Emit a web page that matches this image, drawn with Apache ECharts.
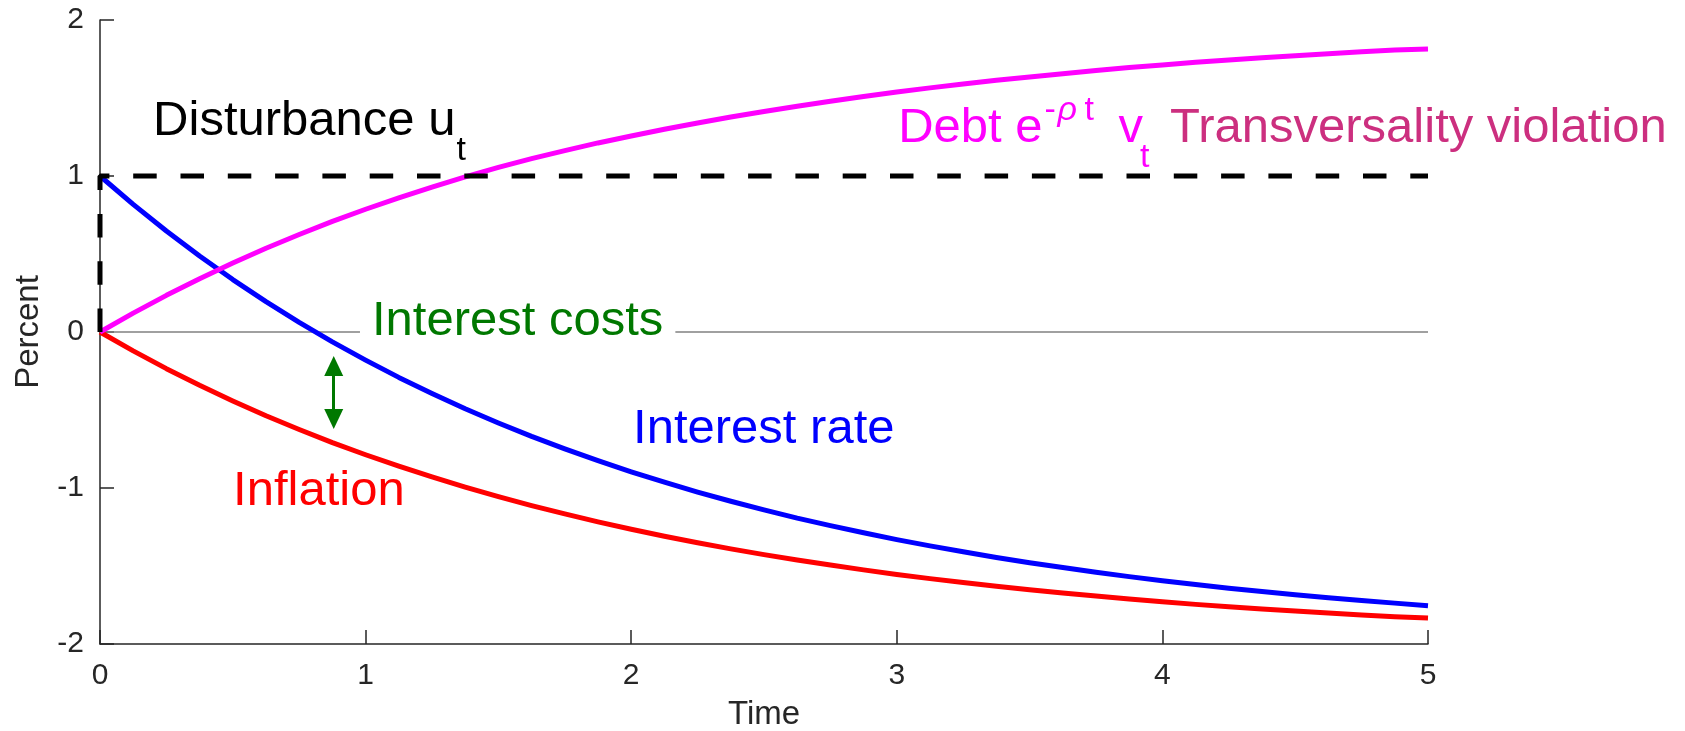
<!DOCTYPE html>
<html>
<head>
<meta charset="utf-8">
<script src="https://cdn.jsdelivr.net/npm/echarts@6.0.0/dist/echarts.min.js"></script>
<style>
  html, body { margin: 0; padding: 0; background: #ffffff; }
  #main { width: 1685px; height: 731px; }
</style>
</head>
<body>
<div id="main"></div>
<script>
// ---- data ----
const timeGrid = [0, 0.125, 0.25, 0.375, 0.5, 0.625, 0.75, 0.875, 1, 1.125, 1.25, 1.375, 1.5, 1.625, 1.75, 1.875, 2, 2.125, 2.25, 2.375, 2.5, 2.625, 2.75, 2.875, 3, 3.125, 3.25, 3.375, 3.5, 3.625, 3.75, 3.875, 4, 4.125, 4.25, 4.375, 4.5, 4.625, 4.75, 4.875, 5];
const inflation = [0, -0.121, -0.235, -0.342, -0.442, -0.537, -0.625, -0.709, -0.787, -0.860, -0.929, -0.994, -1.055, -1.113, -1.166, -1.217, -1.264, -1.309, -1.351, -1.390, -1.427, -1.462, -1.494, -1.525, -1.554, -1.581, -1.606, -1.630, -1.652, -1.673, -1.693, -1.712, -1.729, -1.746, -1.761, -1.776, -1.789, -1.802, -1.814, -1.825, -1.834];
const interestRate = [1, 0.818, 0.647, 0.487, 0.336, 0.195, 0.062, -0.063, -0.180, -0.291, -0.394, -0.492, -0.583, -0.669, -0.749, -0.825, -0.896, -0.963, -1.026, -1.085, -1.140, -1.193, -1.241, -1.287, -1.331, -1.371, -1.409, -1.445, -1.479, -1.510, -1.540, -1.568, -1.594, -1.619, -1.642, -1.663, -1.684, -1.703, -1.721, -1.738, -1.755];
const debt = [0, 0.121, 0.235, 0.342, 0.442, 0.537, 0.625, 0.709, 0.787, 0.860, 0.929, 0.994, 1.055, 1.111, 1.163, 1.212, 1.256, 1.300, 1.340, 1.378, 1.413, 1.447, 1.479, 1.510, 1.538, 1.565, 1.590, 1.614, 1.635, 1.656, 1.676, 1.695, 1.712, 1.729, 1.743, 1.758, 1.771, 1.784, 1.796, 1.807, 1.814];
const disturbanceT = [0, 0, 5];
const disturbanceV = [0, 1, 1];
const zeroLineT = [0, 5];
const zeroLineV = [0, 0];
const xTicks = [0, 1, 2, 3, 4, 5];
const yTicks = [-2, -1, 0, 1, 2];
// annotation anchors (data coords: left edge, text baseline)
const arrowT = 0.88;
const arrowV = [-0.218, -0.558];
const lblDisturbance = [0.200, 1.263];
const lblInterestCosts = [1.024, -0.019];
const lblInterestRate = [2.007, -0.712];
const lblInflation = [0.501, -1.109];
const lblDebt = [3.005, 1.218];
const lblTransversality = [4.029, 1.218];

const FONT = '"Liberation Sans", Helvetica, Arial, sans-serif';
const AXIS_COLOR = '#262626';
const toPairs = (xs, ys) => xs.map((x, i) => [x, ys[i]]);

const chart = echarts.init(document.getElementById('main'), null, { renderer: 'canvas' });

chart.setOption({
  animation: false,
  backgroundColor: '#ffffff',
  grid: { left: 100, right: 257, top: 20, bottom: 87, containLabel: false, outerBoundsMode: 'none' },
  xAxis: {
    type: 'value',
    min: xTicks[0], max: xTicks[xTicks.length - 1], interval: xTicks[1] - xTicks[0],
    name: 'Time', nameLocation: 'middle', nameGap: 54,
    nameTextStyle: { fontFamily: FONT, fontSize: 33, color: AXIS_COLOR },
    axisLine: { show: true, onZero: false, lineStyle: { color: AXIS_COLOR, width: 1.5 } },
    axisTick: { show: true, inside: true, length: 14, lineStyle: { color: AXIS_COLOR, width: 1.5 } },
    axisLabel: { fontFamily: FONT, fontSize: 30, color: AXIS_COLOR, margin: 17 },
    splitLine: { show: false }
  },
  yAxis: {
    type: 'value',
    min: yTicks[0], max: yTicks[yTicks.length - 1], interval: yTicks[1] - yTicks[0],
    name: 'Percent', nameLocation: 'middle', nameGap: 55,
    nameTextStyle: { fontFamily: FONT, fontSize: 33, color: AXIS_COLOR },
    axisLine: { show: true, onZero: false, lineStyle: { color: AXIS_COLOR, width: 1.5 } },
    axisTick: { show: true, inside: true, length: 14, lineStyle: { color: AXIS_COLOR, width: 1.5 } },
    axisLabel: { fontFamily: FONT, fontSize: 30, color: AXIS_COLOR, margin: 16 },
    splitLine: { show: false }
  },
  series: [
    {
      name: 'zero', type: 'line', data: toPairs(zeroLineT, zeroLineV), showSymbol: false, silent: true,
      lineStyle: { color: '#808080', width: 1.5 }, z: 1, clip: false
    },
    {
      name: 'Inflation', type: 'line', data: toPairs(timeGrid, inflation), showSymbol: false, smooth: false,
      lineStyle: { color: '#ff0000', width: 5, join: 'round' }, z: 2, clip: false
    },
    {
      name: 'Interest rate', type: 'line', data: toPairs(timeGrid, interestRate), showSymbol: false, smooth: false,
      lineStyle: { color: '#0000ff', width: 5, join: 'round' }, z: 3, clip: false
    },
    {
      name: 'Debt', type: 'line', data: toPairs(timeGrid, debt), showSymbol: false, smooth: false,
      lineStyle: { color: '#ff00ff', width: 5, join: 'round' }, z: 4, clip: false
    },
    {
      name: 'Disturbance', type: 'line', data: toPairs(disturbanceT, disturbanceV), showSymbol: false,
      lineStyle: { color: '#000000', width: 5, type: [23.5, 23.8], cap: 'butt' }, z: 5, clip: false
    },
    {
      name: 'arrow', type: 'line', data: [], z: 6,
      markLine: {
        silent: true, animation: false,
        symbol: ['triangle', 'triangle'], symbolSize: [19, 20],
        label: { show: false },
        lineStyle: { color: '#007800', width: 3, type: 'solid' },
        data: [[{ coord: [arrowT, arrowV[0]] }, { coord: [arrowT, arrowV[1]] }]]
      }
    }
  ]
});

function placeText() {
  const ctx = document.createElement('canvas').getContext('2d');
  const measure = (t, size) => { ctx.font = size + 'px "Liberation Sans"'; return ctx.measureText(t).width; };
  const px = p => chart.convertToPixel({ gridIndex: 0 }, p);
  const MAIN = 49, SMALL = 34;
  const els = [];
  function addText(x, baseline, text, size, color, extra) {
    const style = Object.assign({
      text: text, fontSize: size, fontFamily: FONT, fill: color,
      align: 'left', verticalAlign: 'middle', textAlign: 'left', textVerticalAlign: 'middle'
    }, extra || {});
    els.push({ type: 'text', x: x, y: baseline - 0.27 * size, z: 100, silent: true, style: style });
  }
  // Disturbance u_t
  let p = px(lblDisturbance);
  const s1 = 'Disturbance u';
  addText(p[0], p[1], s1, MAIN, '#000000');
  addText(p[0] + measure(s1, MAIN) + 1, p[1] + 25, 't', SMALL, '#000000');
  // Interest costs (white box hides the zero line)
  p = px(lblInterestCosts);
  addText(p[0] - 12, p[1], 'Interest costs', MAIN, '#007800', { backgroundColor: '#ffffff', padding: [4, 12, 4, 12] });
  // Interest rate
  p = px(lblInterestRate);
  addText(p[0], p[1], 'Interest rate', MAIN, '#0000ff');
  // Inflation
  p = px(lblInflation);
  addText(p[0], p[1], 'Inflation', MAIN, '#ff0000');
  // Debt e^{-rho t} v_t
  p = px(lblDebt);
  const d1 = 'Debt e';
  addText(p[0], p[1], d1, MAIN, '#ff00ff');
  const eEnd = p[0] + measure(d1, MAIN);
  addText(eEnd + 2, p[1] - 22, '-', SMALL, '#ff00ff');
  addText(eEnd + 15, p[1] - 22, '\u03C1', SMALL, '#ff00ff', { fontStyle: 'italic' });
  addText(eEnd + 42, p[1] - 22, 't', SMALL, '#ff00ff');
  addText(eEnd + 76, p[1], 'v', MAIN, '#ff00ff');
  addText(eEnd + 76 + measure('v', MAIN) - 3, p[1] + 25, 't', SMALL, '#ff00ff');
  // Transversality violation
  p = px(lblTransversality);
  addText(p[0], p[1], 'Transversality violation', MAIN, '#cc2f7f');
  chart.setOption({ graphic: { elements: els } });
}
placeText();
</script>
</body>
</html>
